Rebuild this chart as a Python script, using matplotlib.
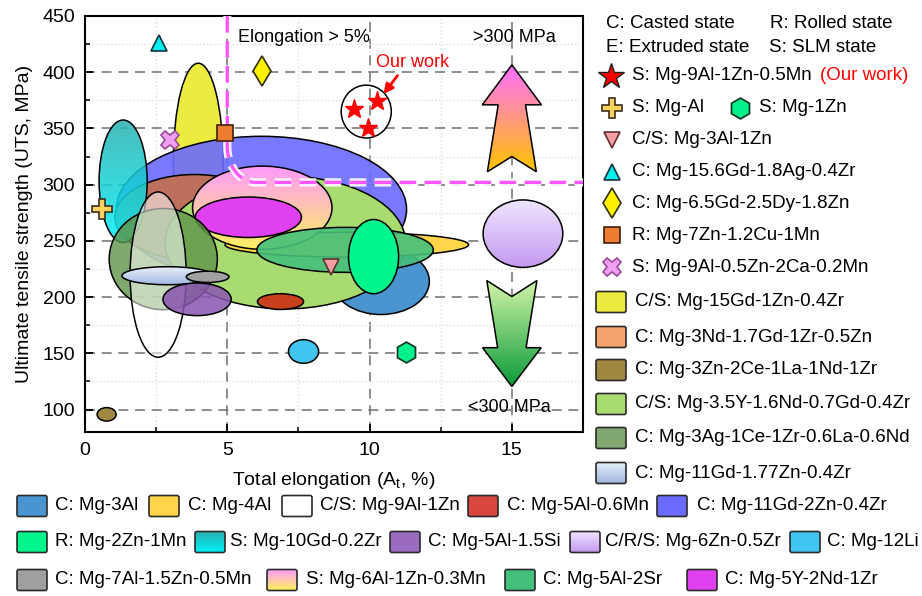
import numpy as np
import matplotlib
matplotlib.use("Agg")
import matplotlib.pyplot as plt
from matplotlib.patches import Ellipse, Polygon, FancyBboxPatch
from matplotlib.colors import LinearSegmentedColormap, to_rgba
import matplotlib.patheffects as pe
from matplotlib.ticker import MultipleLocator

plt.rcParams['font.family'] = ['Liberation Sans', 'DejaVu Sans']
plt.rcParams['mathtext.fontset'] = 'custom'
plt.rcParams['mathtext.rm'] = 'Liberation Sans'
plt.rcParams['mathtext.it'] = 'Liberation Sans:italic'

# ---------------- data ----------------
ell_labels = [
    'C/S: Mg-15Gd-1Zn-0.4Zr', 'C: Mg-11Gd-2Zn-0.4Zr', 'C: Mg-3Nd-1.7Gd-1Zr-0.5Zn', 'C: Mg-3Al',
    'C/S: Mg-3.5Y-1.6Nd-0.7Gd-0.4Zr', 'C: Mg-4Al', 'S: Mg-6Al-1Zn-0.3Mn', 'C: Mg-5Y-2Nd-1Zr',
    'C: Mg-5Al-2Sr', 'R: Mg-2Zn-1Mn', 'C: Mg-5Al-0.6Mn', 'S: Mg-10Gd-0.2Zr',
    'C: Mg-3Ag-1Ce-1Zr-0.6La-0.6Nd', 'C/S: Mg-9Al-1Zn', 'C: Mg-11Gd-1.77Zn-0.4Zr', 'C: Mg-7Al-1.5Zn-0.5Mn',
    'C: Mg-5Al-1.5Si', 'C: Mg-12Li', 'C: Mg-3Zn-2Ce-1La-1Nd-1Zr', 'C/R/S: Mg-6Zn-0.5Zr']
ell_elong = [3.98, 6.2, 3.85, 10.4, 7.04, 9.2, 6.23, 5.74, 9.14, 10.14, 6.87, 1.34,
             2.75, 2.57, 2.9, 4.31, 3.94, 7.68, 0.76, 15.39]
ell_elong_range = [1.75, 10.2, 5.6, 3.4, 8.45, 8.56, 4.9, 3.73, 6.2, 1.76, 1.62, 1.69,
                   3.8, 1.97, 3.2, 1.5, 2.4, 1.06, 0.67, 2.8]
ell_uts = [320, 278, 271, 214, 248.5, 246.6, 279.5, 271, 242, 236, 196, 303,
           233.8, 220, 219, 218, 198, 151.6, 95.7, 256.4]
ell_uts_range = [176, 130, 76, 59, 118, 22, 74, 36, 40, 66, 14, 109,
                 90, 147, 16, 10, 29, 21, 12, 60]

legend_colors = {
    'C: Mg-3Al': '#4A94D0',
    'C: Mg-4Al': '#FFD54A',
    'C/S: Mg-9Al-1Zn': '#FFFFFF',
    'C: Mg-5Al-0.6Mn': '#D9483F',
    'C: Mg-11Gd-2Zn-0.4Zr': '#6B6BFF',
    'R: Mg-2Zn-1Mn': '#00F58C',
    'S: Mg-10Gd-0.2Zr': ('#2AB0B0', '#00F0F8'),
    'C: Mg-5Al-1.5Si': '#9B6BBF',
    'C/R/S: Mg-6Zn-0.5Zr': ('#F0E6FF', '#C49AF0'),
    'C: Mg-12Li': '#40C4F0',
    'C: Mg-7Al-1.5Zn-0.5Mn': '#A0A0A0',
    'S: Mg-6Al-1Zn-0.3Mn': ('#FF99FF', '#FFF060'),
    'C: Mg-5Al-2Sr': '#44C07A',
    'C: Mg-5Y-2Nd-1Zr': '#E040F0',
    'C/S: Mg-15Gd-1Zn-0.4Zr': '#ECEC40',
    'C: Mg-3Nd-1.7Gd-1Zr-0.5Zn': '#F4A46C',
    'C: Mg-3Zn-2Ce-1La-1Nd-1Zr': '#A08840',
    'C/S: Mg-3.5Y-1.6Nd-0.7Gd-0.4Zr': '#A8DC70',
    'C: Mg-3Ag-1Ce-1Zr-0.6La-0.6Nd': '#80A870',
    'C: Mg-11Gd-1.77Zn-0.4Zr': ('#E6EEFA', '#A0B8E0'),
}
chart_face = {
    'C: Mg-3Nd-1.7Gd-1Zr-0.5Zn': '#C4704F',
    'C: Mg-3Ag-1Ce-1Zr-0.6La-0.6Nd': '#5F9448',
    'C: Mg-5Al-0.6Mn': '#C8401C',
    'C: Mg-5Al-1.5Si': '#8A55B0',
}
chart_alpha = {
    'C: Mg-11Gd-2Zn-0.4Zr': 0.9, 'C: Mg-3Nd-1.7Gd-1Zr-0.5Zn': 0.92,
    'S: Mg-10Gd-0.2Zr': 0.85, 'C: Mg-3Ag-1Ce-1Zr-0.6La-0.6Nd': 0.8,
    'C/S: Mg-9Al-1Zn': 0.55, 'C: Mg-5Al-1.5Si': 0.85, 'C: Mg-5Al-2Sr': 0.9,
}

# single-point alloys
mk_labels = ['S: Mg-Al', 'S: Mg-1Zn', 'C/S: Mg-3Al-1Zn', 'C: Mg-15.6Gd-1.8Ag-0.4Zr',
             'C: Mg-6.5Gd-2.5Dy-1.8Zn', 'R: Mg-7Zn-1.2Cu-1Mn', 'S: Mg-9Al-0.5Zn-2Ca-0.2Mn']
mk_elong = [0.58, 11.27, 8.65, 2.61, 6.22, 4.93, 2.97]
mk_uts = [278, 151, 227, 426, 401, 346, 340]
mk_marker = ['P', 'h', 'v', '^', 'd', 's', 'X']
mk_color = ['#F9D35C', '#00F08C', '#F4A0A0', '#00F0F0', '#FFF000', '#ED7D31', '#F0A0F0']
mk_size = [14, 15, 12, 12, 15, 11.5, 13]
mk_edge = ['#3a3020', '#103020', '#603030', '#103040', '#303000', '#402010', '#9A4A9A']

# our work
ours_label = 'S: Mg-9Al-1Zn-0.5Mn'
ours_elong = [9.47, 10.25, 9.93]
ours_uts = [367.5, 374.5, 350.5]

thr_elong = 5.0
thr_uts = 302.0

right_patch_labels = ['C/S: Mg-15Gd-1Zn-0.4Zr', 'C: Mg-3Nd-1.7Gd-1Zr-0.5Zn', 'C: Mg-3Zn-2Ce-1La-1Nd-1Zr',
                      'C/S: Mg-3.5Y-1.6Nd-0.7Gd-0.4Zr', 'C: Mg-3Ag-1Ce-1Zr-0.6La-0.6Nd', 'C: Mg-11Gd-1.77Zn-0.4Zr']
bottom_rows = [
    ['C: Mg-3Al', 'C: Mg-4Al', 'C/S: Mg-9Al-1Zn', 'C: Mg-5Al-0.6Mn', 'C: Mg-11Gd-2Zn-0.4Zr'],
    ['R: Mg-2Zn-1Mn', 'S: Mg-10Gd-0.2Zr', 'C: Mg-5Al-1.5Si', 'C/R/S: Mg-6Zn-0.5Zr', 'C: Mg-12Li'],
    ['C: Mg-7Al-1.5Zn-0.5Mn', 'S: Mg-6Al-1Zn-0.3Mn', 'C: Mg-5Al-2Sr', 'C: Mg-5Y-2Nd-1Zr'],
]

# ---------------- figure ----------------
W, H = 922, 596
fig = plt.figure(figsize=(W / 100, H / 100), dpi=100)
ax = fig.add_axes([85 / W, 1 - 432 / H, (583 - 85) / W, (432 - 16) / H])
XL, YL = (0, 17.5), (80, 450)


def grad_image(axis, patch, c_top, c_bot, z, alpha=1.0, extent=None):
    cmap = LinearSegmentedColormap.from_list('g', [c_bot, c_top])
    g = np.linspace(0, 1, 256).reshape(-1, 1)
    im = axis.imshow(g, cmap=cmap, extent=extent, origin='lower', aspect='auto',
                     zorder=z, alpha=alpha, interpolation='bilinear')
    im.set_clip_path(patch)
    return im


for i, lab in enumerate(ell_labels):
    z = 2 + i * 0.1
    col = chart_face.get(lab, legend_colors[lab])
    a = chart_alpha.get(lab, 1.0)
    cx, cy, w, h = ell_elong[i], ell_uts[i], ell_elong_range[i], ell_uts_range[i]
    if isinstance(col, tuple):
        clip = Ellipse((cx, cy), w, h, facecolor='none', edgecolor='none')
        ax.add_patch(clip)
        grad_image(ax, clip, col[0], col[1], z, alpha=a,
                   extent=[cx - w / 2, cx + w / 2, cy - h / 2, cy + h / 2])
        ax.add_patch(Ellipse((cx, cy), w, h, facecolor='none', edgecolor='black', lw=1.1, zorder=z + 0.01))
    else:
        ax.add_patch(Ellipse((cx, cy), w, h, facecolor=to_rgba(col, a), edgecolor='black',
                             lw=1.1, zorder=z))

# our-work enclosure circle
ocx = np.mean(ours_elong)
ax.add_patch(Ellipse((ocx, 365), 1.76, 47, facecolor='none', edgecolor='black', lw=1.1, zorder=6))
ax.plot(ours_elong, ours_uts, ls='none', marker='*', ms=14, color='#FF0000', mec='#FF0000', zorder=7)
ax.annotate('Our work', xy=(10.49, 380.6), xytext=(11.5, 409), color='#FF0000', fontsize=13,
            ha='center', va='center', zorder=8,
            arrowprops=dict(arrowstyle='-|>', color='#FF0000', lw=2, mutation_scale=14,
                            relpos=(0.35, 0.0), shrinkA=2, shrinkB=0))

for i in range(len(mk_labels)):
    ax.plot(mk_elong[i], mk_uts[i], ls='none', marker=mk_marker[i], ms=mk_size[i],
            color=mk_color[i], mec=mk_edge[i], mew=1.2, zorder=7)

# threshold boundary (elongation > 5 %, UTS > 300 MPa) with rounded corner
rx, ry = 1.0, 32.0
t = np.linspace(np.pi, 1.5 * np.pi, 30)
bx = np.concatenate([[thr_elong, thr_elong], thr_elong + rx + rx * np.cos(t), [XL[1]]])
by = np.concatenate([[YL[1], thr_uts + ry], thr_uts + ry + ry * np.sin(t), [thr_uts]])
ax.plot(bx, by, color='#FF55FF', lw=2.4, dashes=(5, 2.5), zorder=5.5, solid_capstyle='butt',
        path_effects=[pe.Stroke(linewidth=6, foreground='white', alpha=0.9), pe.Normal()])

# arrows
ax_c = 15.0
up = Polygon([[ax_c, 406.5], [ax_c + 1.04, 371], [ax_c + 0.48, 371], [ax_c + 0.86, 311.5],
              [ax_c, 325], [ax_c - 0.86, 311.5], [ax_c - 0.48, 371], [ax_c - 1.04, 371]],
             closed=True, facecolor='none', edgecolor='none')
ax.add_patch(up)
grad_image(ax, up, '#FF6EFF', '#FFC400', 5, extent=[ax_c - 1.1, ax_c + 1.1, 311.5, 406.5])
ax.add_patch(Polygon(up.get_xy(), closed=True, facecolor='none', edgecolor='black', lw=1.1, zorder=5.01))

dn = Polygon([[ax_c - 0.88, 214.7], [ax_c, 200.5], [ax_c + 0.88, 214.7], [ax_c + 0.5, 155],
              [ax_c + 1.03, 155], [ax_c, 120.5], [ax_c - 1.03, 155], [ax_c - 0.5, 155]],
             closed=True, facecolor='none', edgecolor='none')
ax.add_patch(dn)
grad_image(ax, dn, '#D2F5A6', '#0A9A3A', 5, extent=[ax_c - 1.1, ax_c + 1.1, 120.5, 214.7])
ax.add_patch(Polygon(dn.get_xy(), closed=True, facecolor='none', edgecolor='black', lw=1.1, zorder=5.01))

ax.text(5.39, 431, 'Elongation > 5%', fontsize=13, ha='left', va='center', zorder=8)
ax.text(15.1, 431, '>300 MPa', fontsize=13, ha='center', va='center', zorder=8)
ax.text(14.93, 102, '<300 MPa', fontsize=13, ha='center', va='center', zorder=8)

ax.set_xlim(*XL)
ax.set_ylim(*YL)
ax.xaxis.set_major_locator(MultipleLocator(5))
ax.xaxis.set_minor_locator(MultipleLocator(2.5))
ax.yaxis.set_minor_locator(MultipleLocator(25))
ax.set_yticks([100, 150, 200, 250, 300, 350, 400, 450])
ax.set_axisbelow(True)
ax.grid(True, which='major', color='#7a7a7a', lw=1.2, ls=(0, (6, 4)))
ax.grid(True, which='minor', color='#dddddd', lw=1.0, ls=':')
ax.tick_params(which='both', direction='in', labelsize=14, top=False, right=False)
ax.tick_params(which='major', length=6, width=1.3, pad=7)
ax.tick_params(which='minor', length=3.5, width=1.1)
for s in ax.spines.values():
    s.set_linewidth(1.5)
ax.set_xlabel(r'Total elongation (A$_\mathrm{t}$, %)', fontsize=14, labelpad=8)
ax.set_ylabel('Ultimate tensile strength (UTS, MPa)', fontsize=14, labelpad=7)

# ---------------- legends (overlay in pixel coordinates) ----------------
lax = fig.add_axes([0, 0, 1, 1])
lax.set_xlim(0, W)
lax.set_ylim(H, 0)
lax.axis('off')
FS = 13.5


def swatch(x, y, lab):
    col = legend_colors[lab]
    w, h = 30, 21
    box = FancyBboxPatch((x + 2, y - h / 2 + 2), w - 4, h - 4, boxstyle='round,pad=2',
                         facecolor=col if not isinstance(col, tuple) else 'none',
                         edgecolor='#2a2a2a', lw=1.2, zorder=3)
    lax.add_patch(box)
    if isinstance(col, tuple):
        cmap = LinearSegmentedColormap.from_list('g', [col[0], col[1]])
        g = np.linspace(0, 1, 64).reshape(-1, 1)
        im = lax.imshow(g, cmap=cmap, extent=[x, x + w, y + h / 2, y - h / 2], origin='upper',
                        aspect='auto', zorder=2)
        im.set_clip_path(box)


lax.text(606, 24, 'C: Casted state', fontsize=FS, va='center')
lax.text(770, 24, 'R: Rolled state', fontsize=FS, va='center')
lax.text(606, 47, 'E: Extruded state', fontsize=FS, va='center')
lax.text(769, 47, 'S: SLM state', fontsize=FS, va='center')

lax.plot(611, 76, marker='*', ms=19, color='#FF0000', mec='#202020', mew=1.0)
lax.text(632, 76, ours_label, fontsize=FS, va='center')
lax.text(820, 76, '(Our work)', fontsize=FS, va='center', color='#FF0000')

rows_y = [108, 140, 172, 203, 235, 267]
order = [0, 2, 3, 4, 5, 6]
for ry_, idx in zip(rows_y, order):
    lax.plot(612, ry_, marker=mk_marker[idx], ms=mk_size[idx], color=mk_color[idx],
             mec=mk_edge[idx], mew=1.2)
    lax.text(632, ry_, mk_labels[idx], fontsize=FS, va='center')
lax.plot(740, 108, marker=mk_marker[1], ms=mk_size[1], color=mk_color[1], mec=mk_edge[1], mew=1.2)
lax.text(759, 108, mk_labels[1], fontsize=FS, va='center')

for py, lab in zip([302, 337, 370, 404, 438, 473], right_patch_labels):
    swatch(596, py, lab)
    lax.text(635, py, lab, fontsize=FS, va='center')

bottom_y = [506, 542, 580]
bottom_patch_x = [[17, 149, 282, 468, 657], [17, 195, 390, 570, 790], [17, 267, 505, 687]]
bottom_text_x = [[55, 188, 320, 507, 697], [55, 230, 428, 605, 827], [55, 306, 543, 725]]
for r, labs in enumerate(bottom_rows):
    for j, lab in enumerate(labs):
        swatch(bottom_patch_x[r][j], bottom_y[r], lab)
        lax.text(bottom_text_x[r][j], bottom_y[r], lab, fontsize=FS, va='center')

fig.savefig('out.png', dpi=100)
